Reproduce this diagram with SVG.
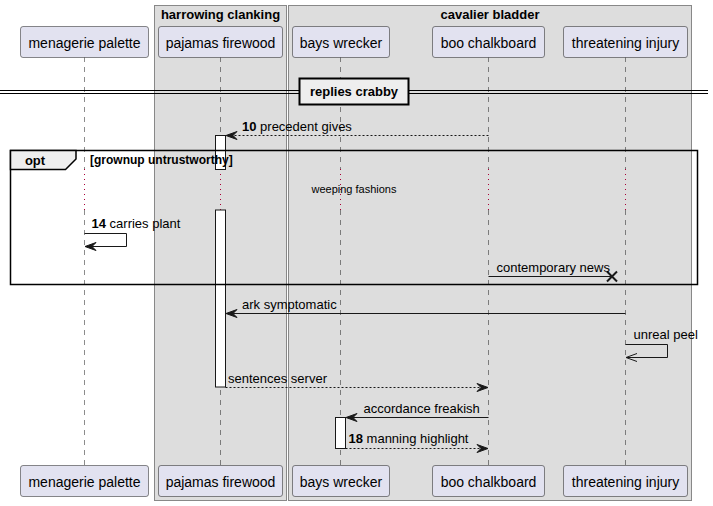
<svg xmlns="http://www.w3.org/2000/svg" width="713" height="506" viewBox="0 0 713 506">
<style>
.box{fill:#DDDDDD;stroke:#888888;stroke-width:1}
.btitle{font-family:"Liberation Sans",Arial,sans-serif;font-size:13px;font-weight:bold;fill:#000;text-anchor:middle}
.part{fill:#E2E2F0;stroke:#181818;stroke-width:0.5}
.pname{font-family:"Liberation Sans",Arial,sans-serif;font-size:14px;fill:#000;text-anchor:middle}
.life{stroke:#181818;stroke-width:0.5;stroke-dasharray:5,5;fill:none}
.delay{stroke:#A80036;stroke-width:1;stroke-dasharray:1,4;fill:none}
.act{fill:#FFFFFF;stroke:#181818;stroke-width:1}
.msg{stroke:#181818;stroke-width:1;fill:none}
.dash{stroke-dasharray:2,2}
.head{fill:#181818;stroke:#181818;stroke-width:1}
.lbl{font-family:"Liberation Sans",Arial,sans-serif;font-size:13px;fill:#000}
.num{font-weight:bold}
.small{font-family:"Liberation Sans",Arial,sans-serif;font-size:11px;fill:#000}
.guard{font-family:"Liberation Sans",Arial,sans-serif;font-size:12px;font-weight:bold;fill:#000}
</style>
<g id="box-harrowing-clanking">
<rect class="box" x="154.5" y="5.5" width="132" height="495"/>
<text class="btitle" x="220.5" y="19">harrowing clanking</text>
</g>
<g id="box-cavalier-bladder">
<rect class="box" x="288.5" y="5.5" width="403" height="495"/>
<text class="btitle" x="490" y="19">cavalier bladder</text>
</g>
<g id="lifelines">
<path class="life" d="M84.5,57 V169 M84.5,210 V466 M220.5,57 V169 M220.5,210 V466 M340.5,57 V169 M340.5,210 V466 M488.5,57 V169 M488.5,210 V466 M625.5,57 V169 M625.5,210 V466"/>
<path class="delay" d="M84.5,169 V210 M220.5,169 V210 M340.5,169 V210 M488.5,169 V210 M625.5,169 V210"/>
</g>
<g id="menagerie-palette">
<rect class="part" x="20.5" y="26.5" width="128" height="31" rx="2.5"/>
<text class="pname" x="84.5" y="47.5">menagerie palette</text>
<rect class="part" x="20.5" y="465.5" width="128" height="31" rx="2.5"/>
<text class="pname" x="84.5" y="486.5">menagerie palette</text>
</g>
<g id="pajamas-firewood">
<rect class="part" x="158.5" y="26.5" width="124" height="31" rx="2.5"/>
<text class="pname" x="220.5" y="47.5">pajamas firewood</text>
<rect class="part" x="158.5" y="465.5" width="124" height="31" rx="2.5"/>
<text class="pname" x="220.5" y="486.5">pajamas firewood</text>
</g>
<g id="bays-wrecker">
<rect class="part" x="292.5" y="26.5" width="97" height="31" rx="2.5"/>
<text class="pname" x="341" y="47.5">bays wrecker</text>
<rect class="part" x="292.5" y="465.5" width="97" height="31" rx="2.5"/>
<text class="pname" x="341" y="486.5">bays wrecker</text>
</g>
<g id="boo-chalkboard">
<rect class="part" x="432.5" y="26.5" width="112" height="31" rx="2.5"/>
<text class="pname" x="488.5" y="47.5">boo chalkboard</text>
<rect class="part" x="432.5" y="465.5" width="112" height="31" rx="2.5"/>
<text class="pname" x="488.5" y="486.5">boo chalkboard</text>
</g>
<g id="threatening-injury">
<rect class="part" x="563.5" y="26.5" width="124" height="31" rx="2.5"/>
<text class="pname" x="625.5" y="47.5">threatening injury</text>
<rect class="part" x="563.5" y="465.5" width="124" height="31" rx="2.5"/>
<text class="pname" x="625.5" y="486.5">threatening injury</text>
</g>
<g id="activations">
<rect class="act" x="215.5" y="135.5" width="10" height="34"/>
<rect class="act" x="215.5" y="210" width="10" height="177"/>
<rect class="act" x="335.5" y="417.5" width="10" height="31"/>
</g>
<g id="divider-replies-crabby">
<line x1="0" y1="90.5" x2="708" y2="90.5" stroke="#000" stroke-width="1"/>
<line x1="0" y1="93.5" x2="708" y2="93.5" stroke="#000" stroke-width="1"/>
<rect x="299.5" y="78.5" width="109" height="26" fill="#EEEEEE" stroke="#000" stroke-width="2"/>
<text class="btitle" x="354" y="96">replies crabby</text>
</g>
<g id="opt-frame">
<rect x="10.5" y="150.5" width="687" height="134" fill="none" stroke="#000" stroke-width="1.5"/>
<path d="M10.5,150.5 H76 V159 L65.5,169.5 H10.5 Z" fill="#EEEEEE" stroke="#000" stroke-width="1.5"/>
<text class="btitle" x="35" y="165">opt</text>
<text class="guard" x="90" y="163.5">[grownup untrustworthy]</text>
</g>
<g id="delay-label">
<text class="small" x="354" y="193" text-anchor="middle">weeping fashions</text>
</g>
<g id="connectors">
<path class="msg dash" d="M488.5,135.5 H227"/>
<polygon class="head" points="237,131.5 226,135.5 237,139.5 233,135.5"/>
<text class="lbl" x="242" y="131"><tspan class="num">10</tspan> precedent gives</text>

<path class="msg" d="M84.5,233.5 H126.5 V246.5 H86"/>
<polygon class="head" points="96,242.5 85,246.5 96,250.5 92,246.5"/>
<text class="lbl" x="91.5" y="228"><tspan class="num">14</tspan> carries plant</text>

<path class="msg" d="M488.5,276.5 H612"/>
<path d="M607,271.5 L617,281.5 M617,271.5 L607,281.5" stroke="#181818" stroke-width="2" fill="none"/>
<text class="lbl" x="496.5" y="272">contemporary news</text>

<path class="msg" d="M625.5,313.5 H227"/>
<polygon class="head" points="237,309.5 226,313.5 237,317.5 233,313.5"/>
<text class="lbl" x="242" y="308.5">ark symptomatic</text>

<path class="msg" d="M625.5,344.5 H667.5 V357.5 H627"/>
<path class="msg" d="M637,353.5 L626,357.5 L637,361.5"/>
<text class="lbl" x="633.5" y="338.5">unreal peel</text>

<path class="msg dash" d="M225.5,387.5 H487"/>
<polygon class="head" points="477,383.5 488,387.5 477,391.5 481,387.5"/>
<text class="lbl" x="228" y="383">sentences server</text>

<path class="msg" d="M488.5,417.5 H347"/>
<polygon class="head" points="357,413.5 346,417.5 357,421.5 353,417.5"/>
<text class="lbl" x="363.5" y="413">accordance freakish</text>

<path class="msg dash" d="M345.5,448.5 H487"/>
<polygon class="head" points="477,444.5 488,448.5 477,452.5 481,448.5"/>
<text class="lbl" x="348.5" y="443"><tspan class="num">18</tspan> manning highlight</text>
</g>
</svg>
